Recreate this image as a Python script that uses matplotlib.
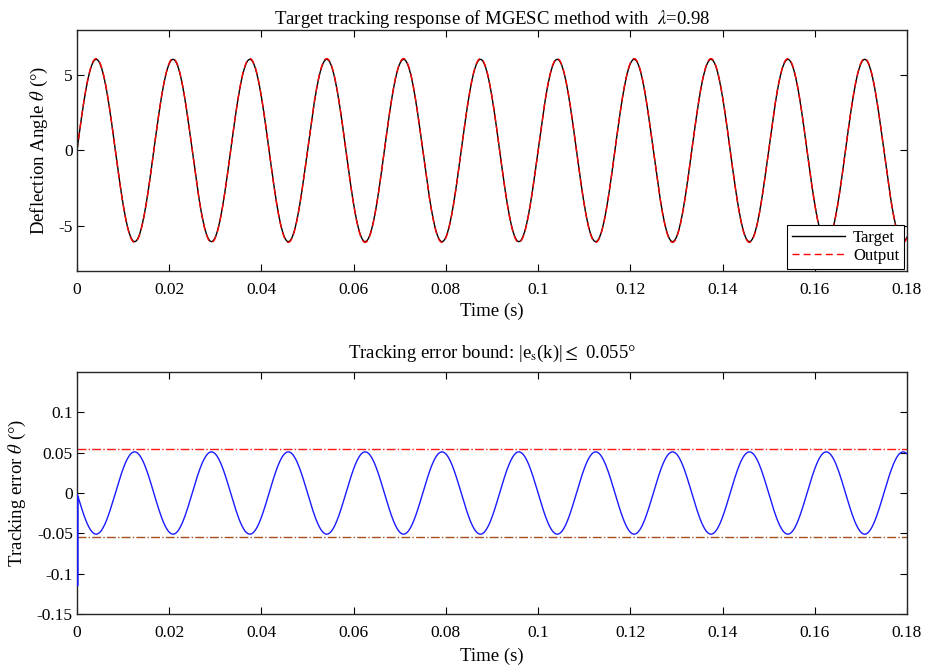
import numpy as np
import matplotlib.pyplot as plt

# Values
t_end = 0.18            # s
fs = 20000              # samples per second of the simulation
freq = 60.0             # Hz, target period ~0.01667 s
target_amp = 6.05       # deg, peak of the target
error_amp = 0.051       # deg, steady tracking error peak
spike_t = [0.0001, 0.00015]     # start-up transient of the error
spike_e = [-0.002, -0.115]
bound = 0.055           # deg, error bound lines

xticks = [0, 0.02, 0.04, 0.06, 0.08, 0.1, 0.12, 0.14, 0.16, 0.18]
xticklabels = ['0', '0.02', '0.04', '0.06', '0.08', '0.1', '0.12', '0.14', '0.16', '0.18']
top_yticks = [-5, 0, 5]
bot_yticks = [-0.15, -0.1, -0.05, 0, 0.05, 0.1]
bot_yticklabels = ['-0.15', '-0.1', '-0.05', '0', '0.05', '0.1']

plt.rcParams['font.family'] = ['Liberation Serif', 'DejaVu Serif']
plt.rcParams['mathtext.fontset'] = 'stix'
plt.rcParams['axes.unicode_minus'] = False
plt.rcParams['font.size'] = 12

t = np.arange(0.0002, t_end + 1e-9, 1 / fs)
target = target_amp * np.sin(2 * np.pi * freq * t)
err = -error_amp * np.sin(2 * np.pi * freq * t)
output = target - err

t_err = np.concatenate([spike_t, t])
e_all = np.concatenate([spike_e, err])
t_tar = np.concatenate([[0.0], t])
tar_all = np.concatenate([[0.0], target])
out_all = np.concatenate([[0.0], output])

fig = plt.figure(figsize=(9.25, 6.69), dpi=100)
ax1 = fig.add_axes([0.0832, 0.5949, 0.8973, 0.3603])
ax2 = fig.add_axes([0.0832, 0.0822, 0.8973, 0.3617])


def matlab_style(ax):
    ax.tick_params(direction='in', top=True, right=True, length=5, width=0.8,
                   labelsize=12.5)
    ax.tick_params(axis='x', pad=8)
    ax.tick_params(axis='y', pad=3)
    for s in ax.spines.values():
        s.set_linewidth(1.0)
        s.set_color('#262626')


# top panel
ax1.plot(t_tar, tar_all, color='k', lw=1.0, label='Target')
ax1.plot(t_tar, out_all, color='r', lw=1.0, ls=(0, (5, 3)), label='Output')
ax1.set_xlim(0, t_end)
ax1.set_ylim(-8, 8)
ax1.set_xticks(xticks)
ax1.set_xticklabels(xticklabels)
ax1.set_yticks(top_yticks)
ax1.set_xlabel('Time (s)', fontsize=13.5, labelpad=3)
ax1.set_ylabel(r'Deflection Angle $\theta$ (°)', fontsize=13.5, labelpad=6)
ax1.set_title(r'Target tracking response of MGESC method with  $\lambda$=0.98', fontsize=13.5, pad=4)
leg = ax1.legend(loc='lower right', fontsize=12, fancybox=False, edgecolor='k',
                 framealpha=1, borderaxespad=0.15, handlelength=3.2,
                 borderpad=0.3, labelspacing=0.1, handletextpad=0.5)
leg.get_frame().set_linewidth(0.8)
matlab_style(ax1)

# bottom panel
ax2.plot(t_err, e_all, color='#1a1aff', lw=1.0, zorder=3)
ax2.axhline(bound, color='#ff1a1a', lw=1.0, ls='-.')
ax2.axhline(-bound, color='#a5501e', lw=1.0, ls='-.')
ax2.set_xlim(0, t_end)
ax2.set_ylim(-0.15, 0.15)
ax2.set_xticks(xticks)
ax2.set_xticklabels(xticklabels)
ax2.set_yticks(bot_yticks)
ax2.set_yticklabels(bot_yticklabels)
ax2.set_xlabel('Time (s)', fontsize=13.5, labelpad=5)
ax2.set_ylabel(r'Tracking error $\theta$ (°)', fontsize=13.5, labelpad=6)
ax2.set_title(r'Tracking error bound: |e$_{\rm s}$(k)|$\leq$ 0.055°', fontsize=13.5, pad=10)
matlab_style(ax2)

fig.savefig('out.png', dpi=100)
